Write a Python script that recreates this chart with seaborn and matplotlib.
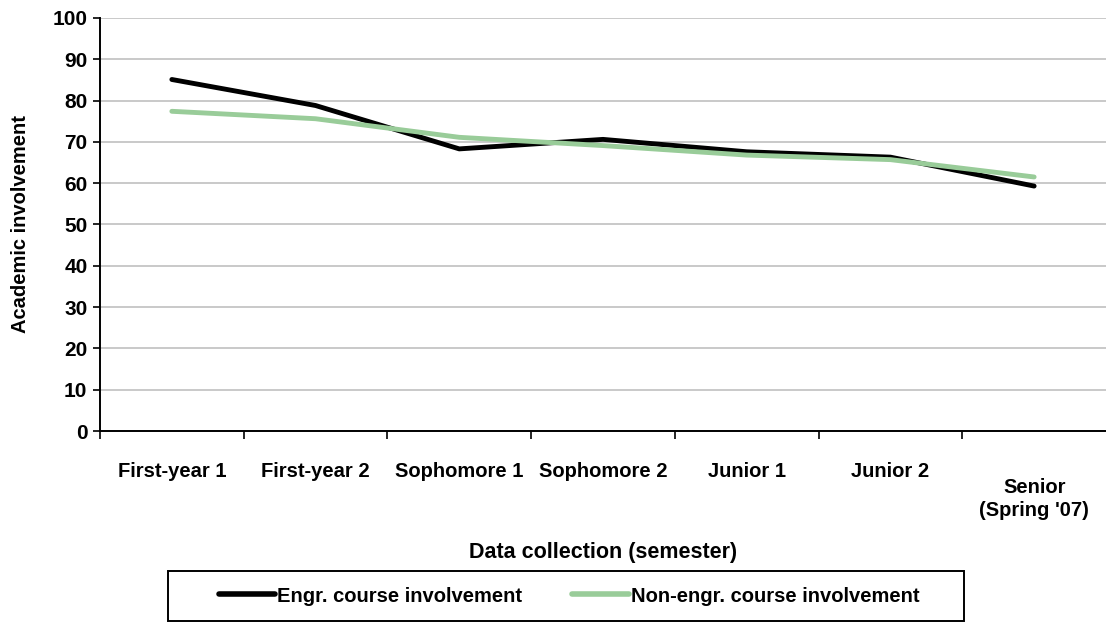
import pandas as pd
import seaborn as sns
from matplotlib import pyplot as plt
from matplotlib.patches import Rectangle
from matplotlib.ticker import FixedLocator, NullFormatter
from matplotlib.transforms import ScaledTranslation

semesters = ['First-year 1', 'First-year 2', 'Sophomore 1', 'Sophomore 2',
             'Junior 1', 'Junior 2', "Senior\n(Spring '07)"]
engr = [85.1, 78.8, 68.3, 70.6, 67.6, 66.3, 59.3]
non_engr = [77.4, 75.6, 71.1, 69.1, 66.8, 65.7, 61.5]
series_names = ['Engr. course involvement', 'Non-engr. course involvement']
y_ticks = list(range(0, 101, 10))

sns.set_style('white')
plt.rcParams['font.family'] = ['Liberation Sans', 'DejaVu Sans']
plt.rcParams['text.color'] = 'black'
plt.rcParams['axes.labelcolor'] = 'black'
plt.rcParams['xtick.color'] = 'black'
plt.rcParams['ytick.color'] = 'black'

df = pd.DataFrame({
    'semester': semesters * 2,
    'value': engr + non_engr,
    'series': [series_names[0]] * len(engr) + [series_names[1]] * len(non_engr),
})

fig = plt.figure(figsize=(11.06, 6.41), dpi=100)
ax = fig.add_axes([0.0904, 0.3276, 0.9096, 0.6444])

sns.lineplot(data=df, x='semester', y='value', hue='series',
             palette=['#000000', '#99cc99'], linewidth=3.5, sort=False,
             ax=ax, legend=True)

ax.set_ylim(0, 100)
ax.set_xlim(-0.5, len(semesters) - 0.5)
ax.set_yticks(y_ticks)
ax.tick_params(axis='y', labelsize=15, length=5, width=1.2, direction='out',
               left=True, pad=4)
for lab in ax.get_yticklabels():
    lab.set_fontweight('bold')
ax.yaxis.grid(True, color='#c0c0c0', linewidth=1.2)
ax.set_axisbelow(True)

# ticks at category boundaries, labels in the middle
ax.xaxis.set_major_locator(FixedLocator([i - 0.5 for i in range(len(semesters))]))
ax.xaxis.set_major_formatter(NullFormatter())
ax.xaxis.set_minor_locator(FixedLocator(range(len(semesters))))
ax.set_xticklabels(semesters, minor=True, fontsize=14.5, fontweight='bold',
                   linespacing=1.3)
ax.tick_params(axis='x', which='major', bottom=True, length=6, width=1.2, direction='out')
ax.tick_params(axis='x', which='minor', bottom=True, length=0, pad=22)
last = ax.get_xticklabels(minor=True)[-1]
last.set_transform(last.get_transform() + ScaledTranslation(0, -0.16, fig.dpi_scale_trans))

for s in ['top', 'right']:
    ax.spines[s].set_visible(False)
for s in ['left', 'bottom']:
    ax.spines[s].set_color('black')
    ax.spines[s].set_linewidth(1.4)

ax.set_ylabel('Academic involvement', fontsize=14.5, fontweight='bold', labelpad=16)
ax.set_xlabel('Data collection (semester)', fontsize=15.5, fontweight='bold')
ax.xaxis.set_label_coords(0.5, -0.268)

handles, labels = ax.get_legend_handles_labels()
ax.get_legend().remove()
leg = fig.legend(handles, labels, loc='center', bbox_to_anchor=(0.5145, 0.0702),
                 ncol=2, frameon=False, handlelength=2.8, handletextpad=0.1,
                 columnspacing=2.5, prop={'size': 14.5, 'weight': 'bold'})
for h in leg.get_lines():
    h.set_linewidth(4)
fig.patches.append(Rectangle((0.1519, 0.0312), 0.7197, 0.078, transform=fig.transFigure,
                             fill=False, edgecolor='black', linewidth=1.4))

fig.savefig('out.png', dpi=100)
